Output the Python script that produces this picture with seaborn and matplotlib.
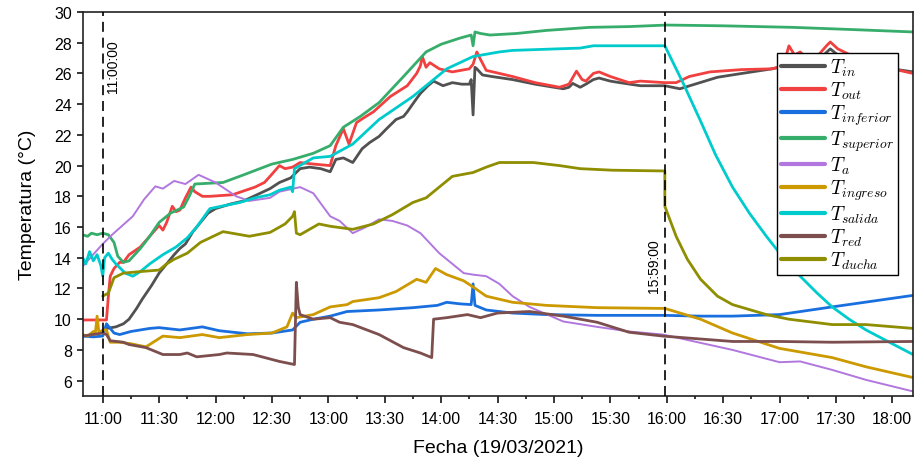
import matplotlib
matplotlib.use("Agg")
import matplotlib.pyplot as plt
import matplotlib.dates as mdates
from matplotlib.lines import Line2D
import pandas as pd
import seaborn as sns

DAY = "2021-03-19 "

# readings (time, value) per sensor
t_in_time = ["11:02", "11:07", "11:11", "11:14", "11:18", "11:21", "11:26", "11:30", "11:34", "11:38",
             "11:41", "11:44", "11:48", "11:52", "11:56", "12:00", "12:08", "12:15", "12:22", "12:29",
             "12:34", "12:40", "12:45", "12:50", "12:56", "13:01", "13:04", "13:08", "13:13", "13:18",
             "13:22", "13:27", "13:31", "13:36", "13:40", "13:42", "13:46", "13:49", "13:53", "13:56",
             "14:01", "14:06", "14:11", "14:15", "14:16", "14:17", "14:18", "14:19", "14:22", "14:27",
             "14:38", "14:50", "15:05", "15:08", "15:10", "15:14", "15:17", "15:21", "15:24", "15:30",
             "15:35", "15:46", "15:59", "16:05", "16:07", "16:15", "16:27", "16:40", "16:56", "17:04",
             "17:10", "17:20", "17:27", "17:33", "17:45", "18:00", "18:11"]
t_in_val = [9.4, 9.5, 9.7, 10.0, 10.7, 11.3, 12.2, 13.0, 13.6, 14.2,
            14.6, 14.9, 15.7, 16.3, 16.9, 17.2, 17.5, 17.7, 18.1, 18.5,
            18.9, 19.2, 19.8, 19.9, 19.8, 19.6, 20.4, 20.5, 20.2, 21.1,
            21.5, 21.9, 22.4, 23.0, 23.2, 23.5, 24.2, 24.7, 25.2, 25.5,
            25.2, 25.4, 25.3, 25.3, 25.6, 23.3, 26.4, 26.3, 25.9, 25.8,
            25.6, 25.3, 25.0, 25.1, 25.35, 25.1, 25.3, 25.6, 25.7, 25.5,
            25.4, 25.2, 25.2, 25.05, 25.0, 25.3, 25.75, 26.0, 26.3, 26.5,
            26.5, 26.8, 27.6, 27.0, 26.6, 26.3, 26.1]

t_out_time = ["10:49", "11:02", "11:03", "11:04", "11:06", "11:09", "11:11", "11:14", "11:20", "11:25",
              "11:30", "11:32", "11:34", "11:37", "11:39", "11:41", "11:44", "11:47", "11:49", "11:53",
              "11:57", "12:09", "12:21", "12:26", "12:29", "12:34", "12:37", "12:41", "12:45", "12:52",
              "13:01", "13:04", "13:08", "13:11", "13:15", "13:20", "13:24", "13:33", "13:42", "13:47",
              "13:49", "13:50", "13:52", "13:54", "13:59", "14:06", "14:15", "14:17", "14:19", "14:21",
              "14:24", "14:31", "14:38", "14:50", "15:03", "15:08", "15:12", "15:15", "15:17", "15:21",
              "15:24", "15:30", "15:35", "15:40", "15:46", "15:59", "16:05", "16:12", "16:23", "16:40",
              "16:56", "17:02", "17:05", "17:08", "17:11", "17:15", "17:20", "17:25", "17:27", "17:31",
              "17:36", "17:45", "17:55", "18:00", "18:11"]
t_out_val = [9.95, 9.95, 11.5, 12.8, 13.3, 13.7, 13.7, 14.2, 14.7, 15.4,
             16.1, 15.8, 16.3, 17.35, 17.0, 17.1, 17.9, 18.6, 18.3, 18.0,
             18.0, 18.1, 18.6, 18.9, 19.3, 20.0, 19.8, 19.9, 20.2, 20.1,
             20.0, 21.3, 22.4, 21.4, 22.8, 23.2, 23.5, 24.5, 25.2, 26.0,
             26.5, 27.1, 26.4, 26.7, 26.3, 26.1, 26.3, 26.6, 27.4, 26.9,
             26.2, 26.0, 25.8, 25.4, 25.1, 25.3, 26.15, 25.6, 25.5, 26.0,
             26.1, 25.8, 25.6, 25.4, 25.5, 25.4, 25.4, 25.8, 26.1, 26.25,
             26.3, 26.5, 27.8, 27.2, 27.4, 26.9, 27.1, 27.8, 28.05, 27.6,
             27.3, 26.8, 26.5, 26.3, 26.0]

t_inf_time = ["10:49", "10:55", "11:00", "11:02", "11:04", "11:06", "11:09", "11:15", "11:25", "11:30",
              "11:41", "11:53", "12:02", "12:17", "12:30", "12:41", "12:45", "12:52", "13:01", "13:10",
              "13:27", "13:45", "13:58", "14:03", "14:10", "14:16", "14:17", "14:18", "14:24", "14:38",
              "14:56", "15:23", "15:59", "16:18", "16:35", "17:00", "17:28", "18:11"]
t_inf_val = [8.9, 8.85, 8.9, 9.7, 9.4, 9.1, 9.0, 9.2, 9.4, 9.45,
             9.3, 9.5, 9.25, 9.05, 9.1, 9.3, 9.8, 10.0, 10.2, 10.5,
             10.6, 10.75, 10.9, 11.1, 11.0, 10.95, 12.3, 10.9, 10.6, 10.4,
             10.3, 10.25, 10.25, 10.2, 10.2, 10.3, 10.8, 11.55]

t_sup_time = ["10:49", "10:52", "10:54", "10:57", "11:00", "11:03", "11:06", "11:08", "11:11", "11:14",
              "11:20", "11:25", "11:30", "11:36", "11:43", "11:46", "11:49", "12:04", "12:15", "12:30",
              "12:41", "12:52", "13:01", "13:08", "13:17", "13:27", "13:40", "13:52", "14:00", "14:10",
              "14:16", "14:17", "14:18", "14:21", "14:26", "14:40", "14:56", "15:19", "15:40", "16:00",
              "16:30", "17:07", "17:40", "18:11"]
t_sup_val = [15.5, 15.4, 15.6, 15.5, 15.6, 15.5, 15.0, 14.1, 13.7, 13.8,
             14.6, 15.4, 16.3, 16.9, 17.3, 18.0, 18.8, 18.9, 19.4, 20.1,
             20.4, 20.8, 21.3, 22.5, 23.2, 24.1, 25.8, 27.4, 27.9, 28.3,
             28.5, 27.8, 28.7, 28.6, 28.5, 28.6, 28.8, 29.0, 29.05, 29.15,
             29.1, 29.0, 28.85, 28.7]

t_a_time = ["10:49", "11:00", "11:05", "11:16", "11:22", "11:28", "11:32", "11:38", "11:44", "11:51",
            "12:00", "12:11", "12:18", "12:29", "12:34", "12:45", "12:52", "12:58", "13:01", "13:06",
            "13:13", "13:20", "13:27", "13:34", "13:42", "13:49", "13:59", "14:12", "14:17", "14:24",
            "14:31", "14:38", "14:47", "15:05", "15:23", "15:40", "15:58", "16:35", "17:00", "17:11",
            "17:28", "17:46", "18:11"]
t_a_val = [13.4, 14.9, 15.5, 16.7, 17.8, 18.65, 18.5, 19.0, 18.8, 19.4,
           18.9, 18.0, 17.7, 17.9, 18.3, 18.6, 18.2, 17.2, 16.7, 16.4,
           15.6, 16.0, 16.5, 16.4, 16.1, 15.6, 14.3, 13.0, 12.9, 12.8,
           12.3, 11.5, 10.8, 9.85, 9.5, 9.2, 9.0, 8.0, 7.2, 7.25,
           6.7, 6.05, 5.3]

t_ing_time = ["10:49", "10:52", "10:55", "10:56", "10:57", "10:58", "11:00", "11:02", "11:04", "11:09",
              "11:15", "11:23", "11:32", "11:41", "11:53", "12:02", "12:17", "12:30", "12:38", "12:41",
              "12:43", "12:52", "13:01", "13:10", "13:13", "13:27", "13:36", "13:47", "13:52", "13:57",
              "14:03", "14:12", "14:17", "14:24", "14:38", "14:56", "15:23", "15:59", "16:18", "16:35",
              "17:00", "17:28", "17:46", "18:11"]
t_ing_val = [9.0, 8.9, 9.2, 9.0, 10.2, 9.1, 9.3, 9.3, 8.5, 8.5,
             8.4, 8.2, 8.9, 8.8, 9.0, 8.8, 9.0, 9.1, 9.5, 10.4,
             10.1, 10.3, 10.8, 10.95, 11.15, 11.4, 11.8, 12.6, 12.4, 13.3,
             12.9, 12.5, 12.1, 11.5, 11.1, 10.9, 10.75, 10.7, 10.0, 9.1,
             8.1, 7.5, 6.9, 6.2]

t_sal_time = ["10:49", "10:51", "10:53", "10:55", "10:57", "10:59", "11:00", "11:01", "11:03", "11:05",
              "11:07", "11:12", "11:16", "11:20", "11:25", "11:32", "11:39", "11:45", "11:50", "11:57",
              "12:05", "12:13", "12:21", "12:29", "12:34", "12:40", "12:41", "12:42", "12:52", "13:01",
              "13:13", "13:27", "13:45", "14:03", "14:17", "14:31", "14:38", "15:14", "15:21", "15:59",
              "16:09", "16:18", "16:26", "16:35", "16:44", "16:53", "17:02", "17:11", "17:20", "17:28",
              "17:37", "17:46", "18:00", "18:11"]
t_sal_val = [14.1, 13.6, 14.4, 13.8, 14.2, 13.5, 12.8, 14.0, 14.3, 13.9,
             13.6, 13.0, 12.8, 13.1, 13.6, 14.2, 14.7, 15.3, 16.0, 17.2,
             17.4, 17.6, 17.9, 18.1, 18.4, 18.6, 18.3, 19.8, 20.5, 20.6,
             21.4, 23.0, 24.5, 26.3, 27.1, 27.4, 27.5, 27.65, 27.8, 27.8,
             25.3, 22.9, 20.7, 18.6, 16.9, 15.4, 14.0, 12.8, 11.7, 10.8,
             10.0, 9.3, 8.4, 7.7]

t_red_time = ["10:49", "11:00", "11:02", "11:04", "11:11", "11:14", "11:23", "11:32", "11:41", "11:45",
              "11:50", "12:02", "12:06", "12:20", "12:34", "12:38", "12:42", "12:43", "12:44", "12:45",
              "12:52", "13:01", "13:06", "13:13", "13:27", "13:40", "13:49", "13:55", "13:56", "14:03",
              "14:14", "14:21", "14:30", "14:47", "15:05", "15:23", "15:40", "15:58", "16:35", "17:00",
              "17:28", "18:11"]
t_red_val = [8.9, 9.1, 9.0, 8.6, 8.5, 8.35, 8.15, 7.7, 7.7, 7.8,
             7.55, 7.7, 7.8, 7.7, 7.25, 7.15, 7.05, 12.4, 10.8, 10.3,
             10.0, 10.1, 9.8, 9.65, 9.0, 8.15, 7.8, 7.5, 10.0, 10.1,
             10.3, 10.1, 10.4, 10.5, 10.2, 9.8, 9.15, 8.9, 8.55, 8.55,
             8.5, 8.55]

t_ducha_time = ["11:00", "11:03", "11:06", "11:11", "11:20", "11:30", "11:34", "11:38", "11:45", "11:52",
                "12:04", "12:18", "12:29", "12:37", "12:41", "12:42", "12:43", "12:45", "12:55", "13:01",
                "13:13", "13:24", "13:34", "13:45", "13:52", "13:59", "14:06", "14:17", "14:24", "14:31",
                "14:49", "15:03", "15:14", "15:31", "15:59", "15:59", "16:05", "16:11", "16:18", "16:27",
                "16:35", "16:53", "17:05", "17:28", "17:46", "18:11"]
t_ducha_val = [11.5, 11.7, 12.7, 13.0, 13.1, 13.2, 13.6, 13.9, 14.3, 15.0,
               15.7, 15.4, 15.65, 16.2, 16.7, 17.0, 15.6, 15.5, 16.2, 16.05,
               15.85, 16.2, 16.8, 17.6, 17.9, 18.6, 19.3, 19.55, 19.9, 20.2,
               20.2, 20.0, 19.8, 19.7, 19.65, 17.35, 15.4, 13.9, 12.6, 11.5,
               10.95, 10.3, 10.0, 9.65, 9.65, 9.4]

series = [
    ("$T_{in}$", t_in_time, t_in_val, "#515151"),
    ("$T_{out}$", t_out_time, t_out_val, "#F14040"),
    ("$T_{inferior}$", t_inf_time, t_inf_val, "#1A6FDF"),
    ("$T_{superior}$", t_sup_time, t_sup_val, "#37AD6B"),
    ("$T_{a}$", t_a_time, t_a_val, "#B177DE"),
    ("$T_{ingreso}$", t_ing_time, t_ing_val, "#CC9900"),
    ("$T_{salida}$", t_sal_time, t_sal_val, "#00CBCC"),
    ("$T_{red}$", t_red_time, t_red_val, "#7D4E4E"),
    ("$T_{ducha}$", t_ducha_time, t_ducha_val, "#8E8E00"),
]

sns.set_style("ticks")
plt.rcParams["font.family"] = ["Liberation Sans", "DejaVu Sans"]
plt.rcParams["mathtext.fontset"] = "cm"
plt.rcParams.update({"text.color": "black", "axes.labelcolor": "black",
                     "xtick.color": "black", "ytick.color": "black",
                     "axes.edgecolor": "#222222"})

fig = plt.figure(figsize=(9.21, 4.64), dpi=100)
ax = fig.add_axes([0.0901, 0.1444, 0.9012, 0.8276])

handles = []
for name, times, vals, color in series:
    df = pd.DataFrame({"time": pd.to_datetime([DAY + t for t in times]), "temp": vals})
    lw = 1.4 if name == "$T_{a}$" else 2.0
    sns.lineplot(data=df, x="time", y="temp", color=color, linewidth=lw,
                 estimator=None, sort=False, ax=ax)
    handles.append(Line2D([], [], color=color, linewidth=3))

# marker lines
for t in ["11:00:00", "15:59:00"]:
    ax.axvline(pd.Timestamp(DAY + t), color="black", linewidth=1.2, linestyle=(0, (6, 3.5)), zorder=5)
ax.text(pd.Timestamp(DAY + "11:02"), 26.5, "11:00:00", rotation=90, ha="left", va="center", fontsize=10)
ax.text(pd.Timestamp(DAY + "15:57"), 13.5, "15:59:00", rotation=90, ha="right", va="center", fontsize=10)

ax.set_xlim(pd.Timestamp(DAY + "10:49:30"), pd.Timestamp(DAY + "18:11:00"))
ax.set_ylim(5, 30)
ax.set_yticks(range(6, 31, 2))
ax.xaxis.set_major_locator(mdates.MinuteLocator(byminute=[0, 30]))
ax.xaxis.set_minor_locator(mdates.MinuteLocator(byminute=[15, 45]))
ax.xaxis.set_major_formatter(mdates.DateFormatter("%H:%M"))
ax.tick_params(axis="both", which="major", direction="out", width=1.1, labelsize=11.5)
ax.tick_params(axis="x", which="major", length=5, pad=6)
ax.tick_params(axis="y", which="major", length=4.5)
ax.tick_params(axis="x", which="minor", direction="out", length=2.5, width=1.1)
for sp in ax.spines.values():
    sp.set_linewidth(1.2)
    sp.set_visible(True)

ax.set_xlabel("Fecha (19/03/2021)", fontsize=14, labelpad=9)
ax.set_ylabel("Temperatura (°C)", fontsize=14, labelpad=13)

leg = ax.legend(handles, [s[0] for s in series], loc="upper right", bbox_to_anchor=(0.982, 0.893),
                borderaxespad=0, fontsize=14, frameon=True, fancybox=False, edgecolor="black",
                framealpha=1, handlelength=2.3, handletextpad=0.25, labelspacing=0.08, borderpad=0.2)
leg.get_frame().set_linewidth(1.0)

fig.savefig("out.png", dpi=100)
